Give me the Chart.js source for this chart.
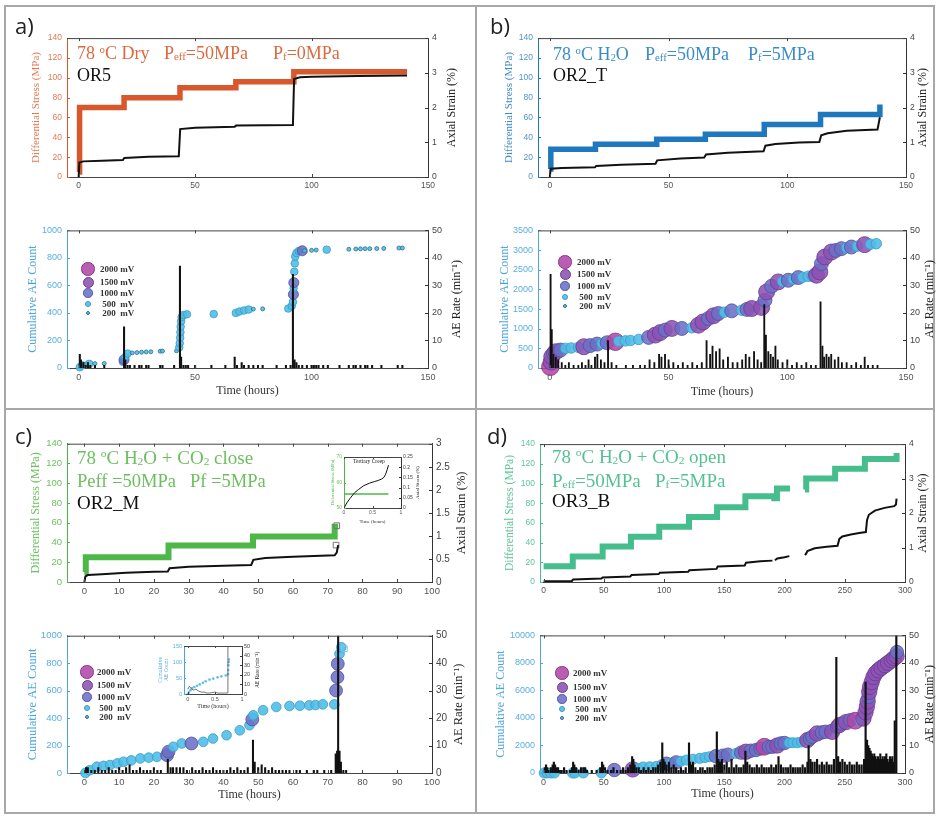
<!DOCTYPE html>
<html>
<head>
<meta charset="utf-8">
<script src="https://cdn.jsdelivr.net/npm/chart.js@4.4.1/dist/chart.umd.min.js"></script>
<style>
  body { margin: 0; width: 938px; height: 817px; position: relative; overflow: hidden; background: #fff; }
  canvas { position: absolute; }
  .rule { position: absolute; background: #a8a8a8; }
  .tag { position: absolute; font-family: "Open Sans", sans-serif; font-size: 22px; line-height: 22px; color: #222; }
  .note { position: absolute; font-family: "Liberation Serif", serif; font-size: 18px; line-height: 20px; white-space: nowrap; }
  .note sup { font-size: 0.6em; vertical-align: 0.6em; line-height: 0; }
  .note sub { font-size: 0.6em; vertical-align: -0.05em; line-height: 0; }
  .leg { position: absolute; font-family: "Liberation Serif", serif; font-weight: bold; font-size: 9px; line-height: 10px; color: #333; white-space: pre; }
  .dot { position: absolute; border-radius: 50%; box-sizing: border-box; }
</style>
</head>
<body>
<div class="rule" style="left:4px;top:5px;width:931px;height:2px"></div>
<div class="rule" style="left:4px;top:812px;width:931px;height:2px"></div>
<div class="rule" style="left:4px;top:5px;width:2px;height:809px"></div>
<div class="rule" style="left:933px;top:5px;width:2px;height:809px"></div>
<div class="rule" style="left:475px;top:5px;width:2px;height:809px"></div>
<div class="rule" style="left:4px;top:408px;width:931px;height:2px"></div>

<script>
// ---- data ----
const xTicks150 = [0, 50, 100, 150];
const xTicks100 = [0, 10, 20, 30, 40, 50, 60, 70, 80, 90, 100];
const xTicks300 = [0, 50, 100, 150, 200, 250, 300];
const stressTicks = [0, 20, 40, 60, 80, 100, 120, 140];
const strainTicks4 = [0, 1, 2, 3, 4];
const strainTicks3 = [0, 0.5, 1, 1.5, 2, 2.5, 3];
const rateTicks = [0, 10, 20, 30, 40, 50];
const aeTicks1000 = [0, 200, 400, 600, 800, 1000];
const aeTicks3500 = [0, 500, 1000, 1500, 2000, 2500, 3000, 3500];
const aeTicks10000 = [0, 2000, 4000, 6000, 8000, 10000];
const insetHourTicks = [0, 0.5, 1];
const insetStressTicks = [50, 60, 70];
const insetStrainTicks = [0, 0.05, 0.1, 0.15, 0.2, 0.25];
const insetAeTicks = [0, 50, 100, 150];

const ampLevels = [2000, 1500, 1000, 500, 200];
const ampLabels = ['2000 mV', '1500 mV', '1000 mV', ' 500  mV', ' 200  mV'];

// a) dry
const aStress = [[0,5],[0.4,70],[19.5,80],[43.5,90],[67.5,96],[92.4,106],[141,106]];
const aStrain = [[0,0],[0.3,0.42],[2,0.45],[10,0.47],[19,0.49],[19.6,0.55],[30,0.58],[43,0.6],[43.6,1.38],[50,1.42],[67,1.45],[67.6,1.48],[80,1.49],[92,1.5],[92.5,2.82],[95,2.87],[100,2.89],[120,2.91],[141,2.92]];
const aAE = [[0.5,5,500],[1.5,20,500],[3,28,200],[4.5,30,500],[7,32,200],[11,33,200],
  [19,45,500],[19.5,60,1000],[20,80,500],[21,105,500],[23,110,200],[25,112,200],[27,115,200],[29,117,200],[31,118,200],[35,122,200],[36,123,200],[42,125,200],
  [43.2,150,500],[43.4,180,500],[43.6,220,500],[43.7,260,500],[43.8,300,500],[44,340,500],[44.2,370,500],[45,385,500],[46.5,390,500],[58,392,500],
  [67.5,400,500],[69,410,500],[71,418,500],[73,425,500],[75,428,200],[79,430,200],
  [90,432,500],[91.5,450,500],[92,480,500],[92.2,535,1000],[92.3,580,500],[92.4,620,1000],[92.6,700,500],[92.8,760,500],[93,810,500],[93.5,835,500],[94.5,850,500],[96,852,1000],[97,853,200],[100,855,200],[102,857,200],[106.5,860,500],[116,863,200],[119,865,200],[121,866,200],[123,867,200],[125,867,200],[128,868,200],[131,869,200],[137.5,872,200],[139,872,200]];
const aRate = [[0.5,5],[1,3],[2,2],[3,1],[4,2],[5,1],[7,1],[11,1],[19.5,15],[20,3],[21,1],[22,1],[24,1],[26,1],[27,1],[29,1],[30,1],[35,1],[36,1],[41,1],[43.5,37],[44,4],[45,1],[46,1],[47,1],[50,1],[57,1],[63,1],[67,4],[68,1],[70,2],[71,1],[73,1],[75,1],[77,1],[79,1],[85,1],[89,1],[91,1],[92,34],[92.7,3],[93.5,2],[94.5,1],[96,1],[98,1],[100,1],[101,1],[102,1],[103,1],[105,1],[107,1],[112,1],[116,1],[118,1],[119,1],[121,1],[123,1],[124,1],[126,1],[130,1],[137,1],[139,1]];

// b) H2O
const bStress = [[0,8],[0.4,28],[19.2,33],[45,38],[65.5,43],[90.3,53],[114,63],[138.5,63],[139,73]];
const bStrain = [[0,0],[0.3,0.24],[5,0.26],[19,0.28],[19.5,0.32],[30,0.35],[44.5,0.38],[45.2,0.48],[55,0.53],[65,0.56],[65.8,0.65],[75,0.7],[90,0.74],[90.8,0.9],[95,0.95],[105,0.99],[113.5,1.01],[114.3,1.2],[117,1.26],[125,1.33],[138,1.37],[139,1.72]];
const bAE = [[0.2,30,2000],[0.5,150,1500],[0.8,290,1500],[1.5,380,1000],[2.5,414,1500],[4.5,456,1000],[6.6,499,500],[9,510,500],[12,525,500],[14.3,541,1500],[17,570,1000],[19.9,608,1000],[22,625,500],[24.1,642,1000],[27.6,667,2000],[29,680,500],[31.8,690,500],[34,700,500],[37.4,727,500],[41.6,778,1000],[44.4,837,1500],[46.5,900,1500],[48.6,964,1000],[51.4,1006,1500],[55.6,1006,1000],[59.8,1023,500],[62.6,1090,1500],[64.5,1170,1500],[66.8,1260,1000],[69,1330,1500],[71,1387,1000],[73.5,1420,500],[76.6,1454,1000],[80.8,1470,500],[83,1490,1000],[85,1513,1500],[89.2,1540,1500],[90.6,1724,1000],[91.3,1935,1500],[93.4,2080,1000],[96.2,2190,1500],[98,2200,500],[100.4,2232,1000],[102.5,2260,500],[104.6,2300,1000],[106.5,2310,500],[108.8,2333,500],[110.5,2340,500],[112.3,2360,1500],[113.7,2443,1500],[114.4,2655,1000],[115.8,2823,1500],[118.6,2950,1500],[120.5,2990,1000],[122.8,3036,1000],[125,3060,500],[127,3077,1000],[129.5,3100,500],[132.6,3137,1500],[135,3150,500],[137.5,3162,500]];
const bRate = [[0.3,34],[0.8,14],[1.5,5],[2.5,4],[3.5,3],[5,2],[6.5,1],[8,2],[10,1],[12,1],[13.5,2],[15,1],[16.3,3],[17.5,1],[19,4],[20,5],[21.5,3],[23,2],[24.5,10],[26,2],[28,1],[32,1],[35,1],[38,1],[40,1],[42,3],[44,2],[46,5],[47,4],[48.5,5],[50,3],[52,2],[54,1],[56,2],[58,1],[60,2],[62,1],[64,2],[66,10],[67.5,5],[68.5,8],[70,6],[71.5,7],[73,3],[75,4],[77,2],[79,2],[81,3],[82.5,5],[84,4],[86,6],[87.5,3],[89,2],[90.3,23],[91,12],[92,6],[93,5],[94,4],[95,8],[96,3],[98,2],[100,3],[102,1],[104,2],[106,1],[108,2],[110,1],[112,1],[114,24],[114.8,8],[115.5,4],[116.5,5],[117.5,4],[118.5,5],[120,3],[121.5,4],[123,2],[125,2],[127,1],[129,2],[131,1],[132.6,4],[134,1],[136,1],[138,1]];

// c) H2O + CO2 close
const cStress = [[0,10],[0.4,25],[24.2,37],[48.5,46],[72,56],[73,56]];
const cStrain = [[0,0],[0.3,0.12],[1,0.15],[5,0.17],[12,0.2],[20,0.22],[24,0.23],[24.5,0.3],[30,0.33],[40,0.35],[48,0.37],[48.6,0.48],[52,0.52],[60,0.55],[72,0.58],[72.6,0.64],[73,0.8]];
const cStressBox = [[72.6,57]];
const cStrainBox = [[72.4,0.8]];
const cAE = [[0.3,0,500],[1.5,20,500],[3.6,46,500],[5.5,52,500],[7.4,58,500],[9.5,70,500],[11.3,82,500],[13.5,92,500],[16.1,106,500],[18.5,112,500],[20.9,118,500],[23.8,130,1000],[24.2,155,1000],[25.6,191,500],[28,215,500],[30.8,215,1000],[34.2,227,500],[37,251,500],[40.9,275,500],[44.7,311,500],[47.5,348,500],[48.3,390,1000],[48.6,420,500],[51.4,457,500],[55.2,481,500],[59,488,500],[62,490,500],[64.7,493,500],[66.5,495,500],[68.6,500,500],[71.9,500,500],[72.4,601,1000],[72.8,698,1000],[72.9,795,1000],[73.4,868,500],[73.9,916,500]];
const cAEBox = [[74.8,905]];
const cRate = [[0.5,2],[1,2],[2,1],[3,1],[4,2],[5,1],[6,1],[7,2],[8,1],[9,1],[10,2],[11,1],[12,2],[13,3],[14,1],[15,1],[16,2],[17,1],[18,1],[19,1],[20,2],[21,1],[22,1],[24,5],[24.8,2],[25.5,2],[26.5,2],[27.5,2],[28.5,2],[29.5,1],[31,2],[32,1],[33,1],[34,2],[35,1],[36,1],[37,2],[38,1],[39,1],[40,1],[41,1],[42,2],[43,1],[44,2],[45,1],[46,1],[47,2],[48.5,12],[49,4],[50,2],[51,3],[52,2],[53,1],[54,2],[55,1],[56,1],[57,1],[58,1],[59,1],[61,1],[62,1],[64,1],[66,1],[67,1],[69,1],[71,1],[72.3,7],[72.7,8],[73,50],[73.4,8],[73.8,4],[74.5,1],[75.3,1]];
// c) insets (last hour)
const ciStress = [[0,55.5],[0.78,55.5]];
const ciStrain = [[0,0],[0.05,0.025],[0.1,0.045],[0.18,0.073],[0.25,0.09],[0.35,0.11],[0.45,0.122],[0.53,0.129],[0.6,0.135],[0.66,0.142],[0.7,0.15],[0.73,0.165],[0.76,0.19],[0.78,0.21]];
const ciAE = [[0,0],[0.02,5],[0.05,12],[0.08,18],[0.12,22],[0.17,26],[0.22,30],[0.28,35],[0.33,40],[0.4,45],[0.47,48],[0.55,52],[0.62,55],[0.7,58],[0.74,62],[0.745,75],[0.75,90],[0.755,100],[0.76,108]];
const ciRate = [[0,5],[0.03,8],[0.06,6],[0.1,4],[0.15,5],[0.2,3],[0.25,2],[0.3,2],[0.35,1],[0.4,1],[0.5,2],[0.55,1],[0.6,1],[0.7,1],[0.73,1],[0.74,50]];

// d) H2O + CO2 open
const dStress = [[0,16],[24.2,26],[49,36],[72.5,46],[96,56],[120.7,66],[144,76],[167.5,87],[191.5,85],[193.7,95],[204.5,95],[210,null],[217,94],[218,105],[242,115],[266.7,125],[292.5,125],[293,131]];
const dStrain = [[0,0.02],[23.5,0.03],[24.5,0.07],[48,0.1],[49,0.13],[72,0.16],[73,0.2],[95.5,0.23],[96.5,0.27],[120,0.3],[121,0.34],[143.5,0.38],[144.5,0.45],[167,0.48],[168,0.56],[180,0.6],[190,0.62],[191,null],[192,0.63],[194,0.68],[200,0.72],[204,0.75],[210,null],[217,0.78],[218,0.83],[219,0.9],[225,0.98],[235,1.02],[244,1.05],[245.5,1.25],[248,1.32],[255,1.38],[262,1.42],[267.5,1.45],[268.5,1.8],[270,1.95],[275,2.07],[283,2.15],[291,2.2],[292.5,2.25],[293,2.42]];
const dAE = [[0.5,0,500],[3,0,500],[6,0,500],[9,0,500],[24,0,500],[26,0,500],[33,0,500],[48,0,500],[58.7,217,1000],[74,260,1500],[78,350,500],[82.6,435,500],[88,450,500],[93.6,480,500],[98,600,500],[101.9,676,1000],[106,720,500],[110,773,1000],[114,850,500],[118.6,942,500],[124,1000,500],[129.6,1063,500],[134,1120,500],[137.8,1184,500],[143,1220,1000],[148.8,1256,1000],[153,1330,1000],[159.8,1425,500],[164,1480,1000],[168,1546,1500],[172,1620,1000],[176.3,1667,1000],[180,1780,1000],[183.2,1908,2000],[187,1900,1000],[190,1908,1000],[194,2000,1500],[197,2150,1000],[200,2180,1000],[203.8,2198,500],[207,2200,500],[210.6,2198,500],[214,2250,500],[218.9,2391,1500],[221,2500,1000],[223,2633,1000],[227,2874,1500],[231,2950,1000],[234,2995,1000],[239.5,2995,1500],[243.6,3357,1000],[245.5,3480,1500],[247.7,3599,1000],[251,3700,1500],[254.6,3841,1000],[258.7,3800,2000],[262.8,3841,500],[265.5,3962,1500],[267.2,4400,1500],[268.3,4807,1500],[269,5200,1500],[269.7,5531,1000],[270.3,5900,1500],[271,6256,1500],[272.3,6600,1500],[273.8,6981,1500],[275.5,7250,1500],[277.9,7464,1500],[280.5,7650,1500],[283.4,7826,1500],[286,8000,1500],[288.9,8188,1500],[291,8350,1500],[293,8478,1500],[293.3,8792,1000]];
const dRate = [[1,2],[2,3],[3,2],[4,1],[6,2],[7.5,3],[8.5,4],[9.5,3],[10.5,2],[12,2],[13.5,1],[15,1],[17,2],[19,1],[22,1],[23.5,2],[24.5,4],[25.5,3],[27,2],[29,1],[31,2],[33,2],[34.5,2],[36,1],[40,1],[44,1],[47,2],[48.5,4],[49.5,3],[51,2],[53,1],[56,1],[58,2],[61,1],[64,1],[66,2],[68,1],[70,2],[72,3],[73.5,6],[74.5,5],[75.5,3],[77,2],[79,2],[81,1],[83,2],[85,1],[87,2],[89,1],[91,2],[93,2],[95,3],[97,4],[98.5,11],[99.5,5],[100.5,4],[102,3],[104,4],[106,2],[108,3],[110,2],[112,1],[114,2],[116,1],[118,2],[120.7,11],[121.5,4],[122.5,3],[124,4],[126,2],[128,1],[130,2],[132,2],[134,1],[136,2],[138,2],[140,2],[142,3],[143.8,15],[145,5],[146.5,4],[148,5],[150,3],[152,4],[154,2],[156,5],[158,2],[160,3],[162,2],[164,2],[166,3],[167.5,8],[169,4],[171,3],[173,2],[175,2],[177,3],[179,2],[181,3],[183,2],[185,2],[187,2],[189,3],[191,2],[193,3],[195,6],[197,3],[199,2],[201,2],[203,2],[205,3],[207,2],[209,2],[211,2],[213,2],[215,3],[217,2],[219,4],[220,10],[221.5,5],[223,4],[225,4],[227,5],[229,3],[231,4],[233,3],[235,4],[237,3],[239,3],[241,5],[243,42],[244.5,6],[246,4],[248,5],[250,4],[252,3],[254,4],[256,3],[258,3],[260,4],[262,3],[264,3],[266,5],[267.3,33],[268.5,12],[269.5,10],[270.5,9],[271.5,8],[272.5,7],[273.5,6],[274.5,7],[275.5,6],[276.5,5],[277.5,6],[278.5,5],[279.5,7],[280.5,5],[281.5,6],[282.5,5],[283.5,6],[284.5,7],[285.5,5],[286.5,4],[287.5,6],[288.5,5],[289.5,6],[290.5,4],[291.5,19],[292.8,50]];

// ---- styles ----
const SANS = '"Liberation Sans", Arial, sans-serif';
const SERIF = '"Liberation Serif", "Times New Roman", serif';
const ORANGE = '#d9582b', BLUE = '#1f78bd', GREEN = '#4db748', TEAL = '#45bd8c', AECOL = '#4da6da';
const amp = {
  2000: { r: 7, fill: 'rgba(176,72,168,0.88)', edge: '#8a3583' },
  1500: { r: 6.4, fill: 'rgba(140,82,180,0.88)', edge: '#6a3a8f' },
  1000: { r: 5.6, fill: 'rgba(108,112,198,0.88)', edge: '#4f529a' },
  500: { r: 4.2, fill: 'rgba(80,190,232,0.9)', edge: '#3a9cc4' },
  200: { r: 2.2, fill: 'rgba(80,190,232,0.9)', edge: '#2d6f88' }
};
const legendRadius = { 2000: 6.7, 1500: 5.5, 1000: 4.7, 500: 3.4, 200: 2.1 };

const xy = a => a.map(p => ({ x: p[0], y: p[1] }));

// inward ticks, top edge of the box and right-hand titles that read upwards (as in MATLAB)
const frame = {
  id: 'frame',
  afterDraw(chart, args, o) {
    const { ctx, chartArea: a } = chart;
    const L = o.tick || 3;
    ctx.save();
    ctx.lineWidth = 1;
    Object.values(chart.scales).forEach(s => {
      ctx.strokeStyle = s.options.border.color;
      ctx.beginPath();
      s.ticks.forEach(t => {
        const p = Math.round(s.getPixelForValue(t.value)) + 0.5;
        if (s.isHorizontal()) {
          ctx.moveTo(p, a.bottom); ctx.lineTo(p, a.bottom - L);
          ctx.moveTo(p, a.top); ctx.lineTo(p, a.top + L);
        } else if (s.position === 'left') {
          ctx.moveTo(a.left, p); ctx.lineTo(a.left + L, p);
        } else {
          ctx.moveTo(a.right, p); ctx.lineTo(a.right - L, p);
        }
      });
      ctx.stroke();
    });
    ctx.strokeStyle = '#444';
    ctx.beginPath();
    ctx.moveTo(a.left, a.top + 0.5); ctx.lineTo(a.right, a.top + 0.5);
    ctx.stroke();
    if (o.rightTitle) {
      const lh = o.rightSize * 1.2;
      ctx.translate(chart.width - lh / 2, (a.top + a.bottom) / 2);
      ctx.rotate(-Math.PI / 2);
      ctx.fillStyle = '#222';
      ctx.font = o.rightSize + 'px ' + SERIF;
      ctx.textAlign = 'center';
      ctx.textBaseline = 'middle';
      ctx.fillText(o.rightTitle, 0, 0);
    }
    ctx.restore();
  }
};

function axis(position, min, max, ticks, o) {
  return {
    type: 'linear', position, min, max, offset: false,
    grid: { display: false, drawTicks: false, offset: false },
    border: { color: o.color, width: o.bw || 1 },
    ticks: { color: o.tickColor || o.color, font: { family: SANS, size: o.fs }, padding: o.pad == null ? 4 : o.pad,
      autoSkip: false, maxRotation: 0, callback: v => String(v) },
    title: o.title ? { display: true, text: o.title, color: o.titleColor || o.color,
      font: { family: SERIF, size: o.ts, lineHeight: 1.2 }, padding: 0 } : { display: false },
    afterBuildTicks: s => { s.ticks = ticks.map(v => ({ value: v })); }
  };
}

function line(pts, color, w, yAxisID, stepped, order) {
  return { type: 'line', data: xy(pts), borderColor: color, borderWidth: w, pointRadius: 0,
    stepped, tension: 0, spanGaps: false, yAxisID, order: order == null ? 1 : order };
}

function bars(pts, w) {
  return { type: 'bar', data: xy(pts), backgroundColor: '#111', barThickness: w, borderWidth: 0,
    grouped: false, yAxisID: 'y1', order: 0 };
}

function hits(pts, k) {
  const st = c => amp[c.raw ? c.raw.mv : 500];
  return { type: 'scatter', data: pts.map(p => ({ x: p[0], y: p[1], mv: p[2] })), yAxisID: 'y',
    pointRadius: c => st(c).r * k, backgroundColor: c => st(c).fill, borderColor: c => st(c).edge,
    borderWidth: 0.8, clip: false, order: 2 };
}

function boxes(pts, color, yAxisID) {
  return { type: 'scatter', data: xy(pts), yAxisID, pointStyle: 'rect', pointRadius: 4,
    backgroundColor: 'rgba(255,255,255,0)', borderColor: color, borderWidth: 1, clip: false, order: 0 };
}

function plot(box, area, scales, datasets, frameOpts) {
  const size = { left: area[0] - box[0], right: box[2] - area[2], bottom: box[3] - area[3] };
  Object.values(scales).forEach(s => {
    const n = size[s.position];
    s.afterFit = sc => { if (sc.isHorizontal()) sc.height = n; else sc.width = n; };
  });
  const cv = document.createElement('canvas');
  cv.width = box[2] - box[0];
  cv.height = box[3] - box[1];
  cv.style.left = box[0] + 'px';
  cv.style.top = box[1] + 'px';
  document.body.appendChild(cv);
  return new Chart(cv, {
    type: 'scatter',
    data: { datasets },
    options: {
      responsive: false, animation: false, events: [],
      layout: { padding: { top: area[1] - box[1], left: 0, right: 0, bottom: 0 } },
      scales,
      plugins: { legend: { display: false }, tooltip: { enabled: false }, frame: frameOpts }
    },
    plugins: [frame]
  });
}

const xAxis = (min, max, ticks, fs, title) =>
  axis('bottom', min, max, ticks, { color: '#444', tickColor: '#555', fs, pad: 4,
    title, titleColor: '#333', ts: 12 });

// ---- a) ----
plot([30, 28, 459, 195], [67, 38, 428, 177], {
  x: xAxis(-5, 150, xTicks150, 8.5),
  y: axis('left', 0, 140, stressTicks, { color: ORANGE, tickColor: '#e07a55', fs: 8.5, pad: 5, title: 'Differential Stress (MPa)', titleColor: '#e07a55', ts: 11 }),
  y1: axis('right', 0, 4, strainTicks4, { color: '#333', tickColor: '#444', fs: 8.5 })
}, [line(aStress, ORANGE, 5.5, 'y', true, 1), line(aStrain, '#111', 2, 'y1', false, 0)],
{ rightTitle: 'Axial Strain (%)', rightSize: 12 });

plot([26, 220, 464, 398], [67, 230, 428, 368], {
  x: xAxis(-5, 150, xTicks150, 9, 'Time (hours)'),
  y: axis('left', 0, 1000, aeTicks1000, { color: AECOL, tickColor: '#5aaee0', fs: 9, pad: 5, title: 'Cumulative AE Count', ts: 12 }),
  y1: axis('right', 0, 50, rateTicks, { color: '#333', tickColor: '#444', fs: 9 })
}, [bars(aRate, 1.4), hits(aAE, 0.9)], { rightTitle: 'AE Rate (min⁻¹)', rightSize: 12 });

// ---- b) ----
plot([503, 28, 930, 195], [538, 38, 906, 177], {
  x: xAxis(-5, 150, xTicks150, 8.5),
  y: axis('left', 0, 140, stressTicks, { color: BLUE, tickColor: '#4f94c8', fs: 8.5, pad: 5, title: 'Differential Stress (MPa)', titleColor: '#3f8ac4', ts: 11 }),
  y1: axis('right', 0, 4, strainTicks4, { color: '#333', tickColor: '#444', fs: 8.5 })
}, [line(bStress, BLUE, 5.5, 'y', true, 1), line(bStrain, '#111', 2, 'y1', false, 0)],
{ rightTitle: 'Axial Strain (%)', rightSize: 12 });

plot([498, 220, 937, 399], [538, 230, 906, 368], {
  x: xAxis(-5, 150, xTicks150, 9, 'Time (hours)'),
  y: axis('left', 0, 3500, aeTicks3500, { color: AECOL, tickColor: '#5aaee0', fs: 9, pad: 5, title: 'Cumulative AE Count', ts: 12 }),
  y1: axis('right', 0, 50, rateTicks, { color: '#333', tickColor: '#444', fs: 9 })
}, [bars(bRate, 1.2), hits(bAE, 1.25)], { rightTitle: 'AE Rate (min⁻¹)', rightSize: 12 });

// ---- c) ----
plot([29, 433, 469, 600], [67, 443, 432, 582], {
  x: xAxis(-5, 100, xTicks100, 9.5),
  y: axis('left', 0, 140, stressTicks, { color: GREEN, tickColor: '#6cc060', fs: 9.5, pad: 5, title: 'Differential Stress (MPa)', titleColor: '#6cc060', ts: 12 }),
  y1: axis('right', 0, 3, strainTicks3, { color: '#333', tickColor: '#444', fs: 10 })
}, [line(cStress, GREEN, 6, 'y', true, 1), line(cStrain, '#111', 2, 'y1', false, 0),
    boxes(cStressBox, '#777', 'y'), boxes(cStrainBox, '#777', 'y1')],
{ rightTitle: 'Axial Strain (%)', rightSize: 12.5 });

plot([25, 625, 466, 802], [67, 635, 432, 773], {
  x: xAxis(-5, 100, xTicks100, 9.5, 'Time (hours)'),
  y: axis('left', 0, 1000, aeTicks1000, { color: AECOL, tickColor: '#5aaee0', fs: 9.5, pad: 5, title: 'Cumulative AE Count', ts: 12.5 }),
  y1: axis('right', 0, 50, rateTicks, { color: '#333', tickColor: '#444', fs: 10 })
}, [bars(cRate, 1.4), hits(cAE, 1.15), boxes(cAEBox, '#7cc6ea', 'y')],
{ rightTitle: 'AE Rate (min⁻¹)', rightSize: 12.5 });

// c) insets
plot([330, 450, 421, 525], [344, 457, 401, 508], {
  x: axis('bottom', 0, 1, insetHourTicks, { color: '#444', tickColor: '#555', fs: 5, pad: 2, title: 'Time (hours)', titleColor: '#333', ts: 5 }),
  y: axis('left', 50, 70, insetStressTicks, { color: GREEN, tickColor: '#6cc060', fs: 5, pad: 2, title: 'Differential Stress (MPa)', ts: 4.5 }),
  y1: axis('right', 0, 0.25, insetStrainTicks, { color: '#333', tickColor: '#444', fs: 5, pad: 2 })
}, [line(ciStress, GREEN, 1.5, 'y', false, 1), line(ciStrain, '#111', 1, 'y1', false, 0)],
{ rightTitle: 'Axial Strain (%)', rightSize: 5, tick: 2 });

plot([157, 640, 261, 710], [184, 646, 242, 694], {
  x: axis('bottom', -0.07, 1, insetHourTicks, { color: '#444', tickColor: '#555', fs: 5.5, pad: 2, title: 'Time (hours)', titleColor: '#333', ts: 6 }),
  y: axis('left', 0, 150, insetAeTicks, { color: AECOL, tickColor: '#5aaee0', fs: 5.5, pad: 2, title: ['Cumulative', 'AE Count'], ts: 5.5 }),
  y1: axis('right', 0, 50, rateTicks, { color: '#333', tickColor: '#444', fs: 5.5, pad: 2 })
}, [line(ciRate, '#555', 0.8, 'y1', false, 0),
    { type: 'scatter', data: xy(ciAE), yAxisID: 'y', pointRadius: 1.3, backgroundColor: '#5fc0ea', borderWidth: 0, order: 1 }],
{ rightTitle: 'AE Rate (min⁻¹)', rightSize: 5.5, tick: 2 });

// ---- d) ----
plot([503, 434, 930, 600], [540, 444, 905, 582], {
  x: xAxis(-3, 300, xTicks300, 8.5),
  y: axis('left', 0, 140, stressTicks, { color: TEAL, tickColor: '#5cc49a', fs: 8.5, pad: 5, title: 'Differential Stress (MPa)', titleColor: '#5cc49a', ts: 11.5 }),
  y1: axis('right', 0, 4, strainTicks4, { color: '#333', tickColor: '#444', fs: 8.5 })
}, [line(dStress, TEAL, 6, 'y', true, 1), line(dStrain, '#111', 2, 'y1', false, 0)],
{ rightTitle: 'Axial Strain (%)', rightSize: 12 });

plot([494, 625, 937, 801], [540, 635, 905, 773], {
  x: xAxis(-3, 300, xTicks300, 9, 'Time (hours)'),
  y: axis('left', 0, 10000, aeTicks10000, { color: AECOL, tickColor: '#5aaee0', fs: 9, pad: 5, title: 'Cumulative AE Count', ts: 12 }),
  y1: axis('right', 0, 50, rateTicks, { color: '#333', tickColor: '#444', fs: 9 })
}, [bars(dRate, 1.5), hits(dAE, 1.2)], { rightTitle: 'AE Rate (min⁻¹)', rightSize: 12 });

// ---- text overlays ----
function put(cls, x, y, html, style) {
  const d = document.createElement('div');
  d.className = cls;
  d.style.left = x + 'px';
  d.style.top = y + 'px';
  if (style) d.style.cssText += style;
  d.innerHTML = html;
  document.body.appendChild(d);
}

put('tag', 15, 14, 'a)');
put('tag', 490, 14, 'b)');
put('tag', 15, 424, 'c)');
put('tag', 487, 424, 'd)');

put('note', 77, 43, '78 <sup>o</sup>C Dry', 'color:#dc6a3e');
put('note', 164, 43, 'P<sub>eff</sub>=50MPa', 'color:#dc6a3e');
put('note', 273, 43, 'P<sub>f</sub>=0MPa', 'color:#dc6a3e');
put('note', 77, 65, 'OR5', 'color:#111');

put('note', 553, 44, '78 <sup>o</sup>C H<sub>2</sub>O', 'color:#3b8cc6');
put('note', 645, 44, 'P<sub>eff</sub>=50MPa', 'color:#3b8cc6');
put('note', 748, 44, 'P<sub>f</sub>=5MPa', 'color:#3b8cc6');
put('note', 553, 65, 'OR2_T', 'color:#111');

put('note', 77, 448, '78 <sup>o</sup>C H<sub>2</sub>O + CO<sub>2</sub> close', 'color:#6cbf5e;font-size:19px');
put('note', 77, 471, 'Peff =50MPa', 'color:#6cbf5e;font-size:18.5px');
put('note', 190, 471, 'Pf =5MPa', 'color:#6cbf5e;font-size:18.5px');
put('note', 77, 493, 'OR2_M', 'color:#111;font-size:19px');
put('note', 353, 458, 'Tertiary Creep', 'color:#222;font-size:5.5px;line-height:6px');

put('note', 552, 447, '78 <sup>o</sup>C H<sub>2</sub>O + CO<sub>2</sub> open', 'color:#55c294;font-size:19px');
put('note', 552, 471, 'P<sub>eff</sub>=50MPa', 'color:#55c294;font-size:19px');
put('note', 655, 471, 'P<sub>f</sub>=5MPa', 'color:#55c294;font-size:19px');
put('note', 552, 491, 'OR3_B', 'color:#111;font-size:19px');

// amplitude legends
function legend(cx, tx, ys) {
  ampLevels.forEach((mv, i) => {
    const r = legendRadius[mv];
    const d = document.createElement('div');
    d.className = 'dot';
    d.style.cssText = `left:${cx - r}px;top:${ys[i] - r}px;width:${2 * r}px;height:${2 * r}px;` +
      `background:${amp[mv].fill};border:1px solid ${amp[mv].edge}`;
    document.body.appendChild(d);
    put('leg', tx, ys[i] - 5, ampLabels[i]);
  });
}
legend(88, 100, [269, 282, 293, 304, 313]);
legend(565, 577, [262, 274, 286, 297, 306]);
legend(87, 97, [672, 685, 697, 708, 717]);
legend(562, 573, [673, 687, 699, 709, 718]);
</script>
</body>
</html>
